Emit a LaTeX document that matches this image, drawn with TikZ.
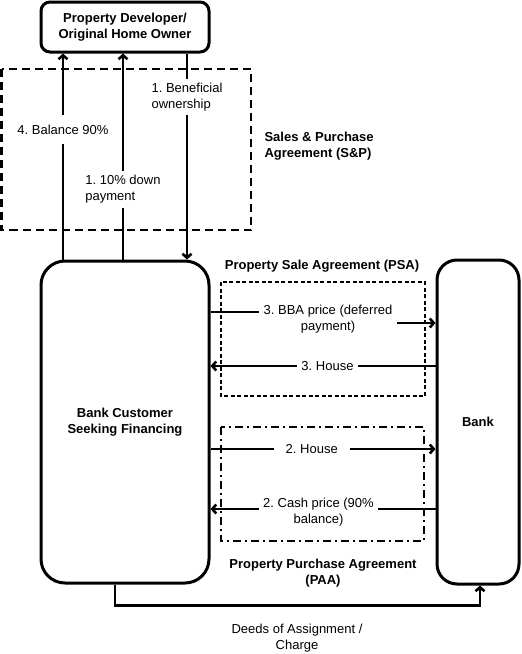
\documentclass[tikz,border=0pt]{standalone}
\usepackage{fontspec}
\setmainfont{Liberation Sans}
\usetikzlibrary{arrows.meta}
\frenchspacing

\begin{document}
\begin{tikzpicture}[x=1pt, y=-1pt,
  font=\fontsize{13}{16}\selectfont,
  party/.style={draw, line width=3pt, font=\fontsize{13}{16}\selectfont\bfseries, align=center},
  flow/.style={line width=2.6pt, -{Straight Barb[length=4pt,width=9pt]}},
  flowlabel/.style={fill=white, align=center, inner sep=4pt},
  title/.style={font=\fontsize{13}{16}\selectfont\bfseries, align=center}]
  % Page size of the picture
  \useasboundingbox (0,0) rectangle (522,654);

  % Agreement frames
  \draw[line width=2.6pt, dash pattern=on 8pt off 5pt] (1.5,69) rectangle (251,230);
  \draw[line width=2pt, dash pattern=on 4pt off 2.5pt] (221,282) rectangle (425,396);
  \draw[line width=2.3pt, dash pattern=on 8pt off 4pt on 2pt off 4pt] (221,427) rectangle (424,541);

  % Parties
  \node[party, rounded corners=9pt, minimum width=168pt, minimum height=50pt] (dev) at (125,27) {Property Developer/\\Original Home Owner};
  \node[party, rounded corners=24pt, minimum width=168pt, minimum height=322pt] (cust) at (125,422) {Bank Customer\\Seeking Financing};
  \node[party, rounded corners=20pt, minimum width=82pt, minimum height=324pt] (bank) at (478,422) {Bank};

  % S&P flows
  \draw[flow] ([xshift=-62pt]cust.north) -- ([xshift=-62pt]dev.south) node[flowlabel, pos=0.63, inner ysep=10pt] (bal) {4. Balance 90\%};
  \draw[flow] ([xshift=-2pt]cust.north) -- ([xshift=-2pt]dev.south) node[flowlabel, align=left, pos=0.34] (down) {1. 10\% down\\payment};
  \draw[flow] ([xshift=62pt]dev.south) -- ([xshift=62pt]cust.north) node[flowlabel, align=left, pos=0.21] (ben) {1. Beneficial\\ownership};
  \node[title, align=left, anchor=west] (sp) at (261,146) {Sales \& Purchase\\Agreement (S\&P)};

  % PSA flows
  \coordinate (bbamid) at (328,319);
  \draw[flow] ([yshift=110pt]cust.east) -| (bbamid) |- ([yshift=99pt]bank.west);
  \node[flowlabel, inner xsep=5pt] (bba) at (bbamid) {3. BBA price (deferred\\payment)};
  \draw[flow] ([yshift=56pt]bank.west) -- ([yshift=56pt]cust.east) node[flowlabel, pos=0.48] (house3) {3. House};
  \node[title] (psa) at (322,266) {Property Sale Agreement (PSA)};

  % PAA flows
  \draw[flow] ([yshift=-27pt]cust.east) -- ([yshift=-27pt]bank.west) node[flowlabel, inner xsep=12pt, pos=0.45] (house2) {2. House};
  \draw[flow] ([yshift=-87pt]bank.west) -- ([yshift=-87pt]cust.east) node[flowlabel, pos=0.52, yshift=-3pt] (cash) {2. Cash price (90\%\\balance)};
  \node[title] (paa) at (323,573) {Property Purchase Agreement\\(PAA)};

  % Deeds to the bank
  \draw[flow] ([xshift=-10pt]cust.south) -- ++(0,21) -| ([xshift=2pt]bank.south);
  \node[align=center] (deeds) at (297,638) {Deeds of Assignment /\\Charge};
\end{tikzpicture}
\end{document}
